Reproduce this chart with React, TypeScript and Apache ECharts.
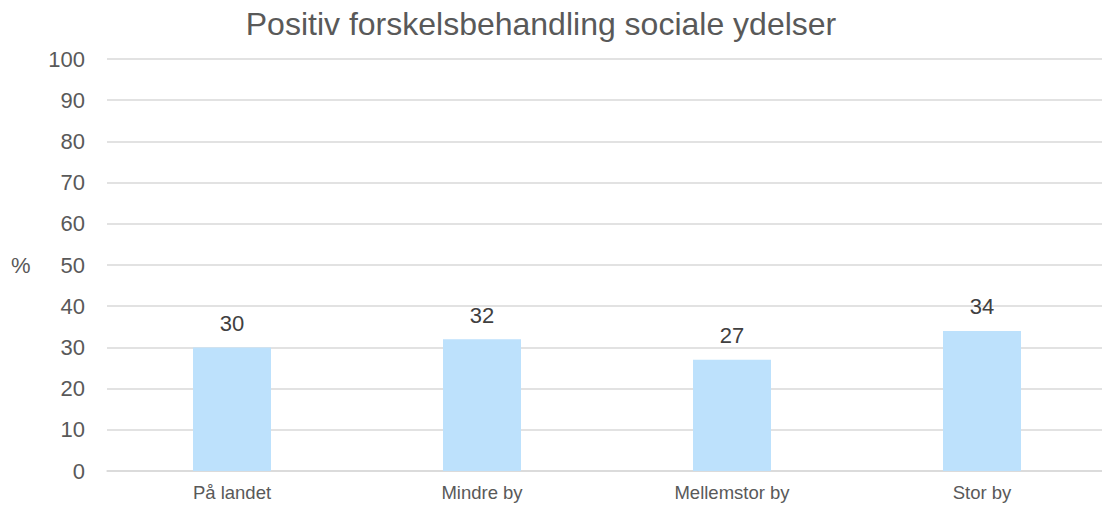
import React, { useEffect, useRef } from "react";
import * as echarts from "echarts";

const categories = ["På landet", "Mindre by", "Mellemstor by", "Stor by"];
const values = [30, 32, 27, 34];
const titleText = "Positiv forskelsbehandling sociale ydelser";
const yAxisName = "%";

export default function App() {
  const ref = useRef<HTMLDivElement>(null);
  useEffect(() => {
    const chart = echarts.init(ref.current!, null, { renderer: "svg" });
    chart.setOption({
      animation: false,
      textStyle: { fontFamily: "Liberation Sans, Arial, sans-serif" },
      title: {
        text: titleText,
        left: 536,
        top: 3,
        textAlign: "center",
        textStyle: { fontSize: 32, fontWeight: "normal", color: "#595959" },
      },
      graphic: [
        {
          type: "text",
          left: 11,
          top: 254,
          style: { text: yAxisName, fontSize: 22, fill: "#595959", fontFamily: "Liberation Sans, Arial, sans-serif" },
        },
      ],
      grid: { left: 107, right: 5, top: 59, bottom: 37 },
      xAxis: {
        type: "category",
        data: categories,
        axisTick: { show: false },
        axisLine: { lineStyle: { color: "#D9D9D9", width: 1.5 } },
        axisLabel: { fontSize: 18.5, color: "#595959", margin: 12 },
      },
      yAxis: {
        type: "value",
        min: 0,
        max: 100,
        interval: 10,
        axisLabel: { fontSize: 22, color: "#595959", margin: 22 },
        splitLine: { lineStyle: { color: "#D9D9D9", width: 1.5 } },
        axisLine: { show: false },
        axisTick: { show: false },
      },
      series: [
        {
          type: "bar",
          data: values,
          barWidth: 78,
          itemStyle: { color: "#BDE1FC" },
          label: { show: true, position: "top", fontSize: 22, color: "#404040", distance: 13 },
        },
      ],
    });
    return () => chart.dispose();
  }, []);
  return (
    <div
      ref={ref}
      style={{ position: "fixed", left: 0, top: 0, width: 1112, height: 508, background: "#fff" }}
    />
  );
}
